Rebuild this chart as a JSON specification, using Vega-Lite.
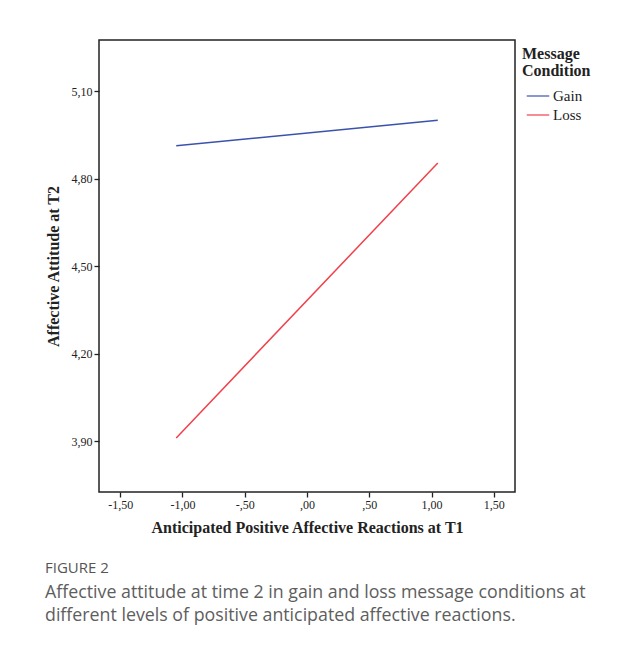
{
  "$schema": "https://vega.github.io/schema/vega-lite/v6.json",
  "width": 416,
  "height": 452,
  "autosize": {"type": "none"},
  "padding": {"left": 99, "top": 40, "right": 108, "bottom": 160},
  "background": "white",
  "data": {
    "values": [
      {"x": -1.05, "y": 4.913, "cond": "Gain"},
      {"x": 1.05, "y": 5.0, "cond": "Gain"},
      {"x": -1.05, "y": 3.912, "cond": "Loss"},
      {"x": 1.05, "y": 4.854, "cond": "Loss"}
    ]
  },
  "title": {
    "text": "FIGURE 2",
    "subtitle": ["Affective attitude at time 2 in gain and loss message conditions at", "different levels of positive anticipated affective reactions."],
    "orient": "bottom",
    "anchor": "start",
    "frame": "bounds",
    "offset": 26,
    "dx": 0,
    "font": "Open Sans",
    "fontSize": 15,
    "fontWeight": 500,
    "color": "#555555",
    "subtitleFont": "Open Sans",
    "subtitleFontSize": 17.8,
    "subtitleColor": "#5e5e5e",
    "subtitlePadding": 8,
    "subtitleLineHeight": 23
  },
  "mark": {"type": "line", "strokeWidth": 1.5},
  "encoding": {
    "x": {
      "field": "x",
      "type": "quantitative",
      "scale": {"domain": [-1.67, 1.67], "nice": false, "zero": false},
      "axis": {
        "title": "Anticipated Positive Affective Reactions at T1",
        "values": [-1.5, -1, -0.5, 0, 0.5, 1, 1.5],
        "labelExpr": "(datum.value < 0 ? '-' : '') + replace(replace(format(abs(datum.value), '.2f'), regexp('^0'), ''), '.', ',')",
        "titlePadding": 9
      }
    },
    "y": {
      "field": "y",
      "type": "quantitative",
      "scale": {"domain": [3.727, 5.275], "nice": false, "zero": false},
      "axis": {
        "title": "Affective Attitude at T2",
        "values": [3.9, 4.2, 4.5, 4.8, 5.1],
        "labelExpr": "replace(format(datum.value, '.2f'), '.', ',')",
        "titlePadding": 10
      }
    },
    "color": {
      "field": "cond",
      "type": "nominal",
      "scale": {"domain": ["Gain", "Loss"], "range": ["#3b52ac", "#f0404a"]},
      "legend": {
        "title": ["Message", "Condition"],
        "symbolType": "M-1.25,0L1.25,0",
        "symbolSize": 324,
        "symbolStrokeWidth": 1.2,
        "symbolFillColor": "transparent",
        "offset": 1,
        "padding": 6,
        "symbolOffset": 6,
        "labelOffset": 5,
        "rowPadding": 1
      }
    }
  },
  "config": {
    "view": {"stroke": "#222222", "strokeWidth": 1.5},
    "axis": {
      "grid": false,
      "domain": false,
      "ticks": true,
      "tickColor": "#222222",
      "tickSize": 5,
      "tickWidth": 1.3,
      "labelFont": "Liberation Serif",
      "labelFontSize": 12,
      "labelColor": "#222222",
      "labelPadding": 2,
      "titleFont": "Liberation Serif",
      "titleFontSize": 16,
      "titleFontWeight": "bold",
      "titleColor": "#222222"
    },
    "legend": {
      "titleFont": "Liberation Serif",
      "titleFontSize": 16,
      "titleFontWeight": "bold",
      "titleColor": "#222222",
      "titleLineHeight": 17,
      "titlePadding": 7,
      "labelFont": "Liberation Serif",
      "labelFontSize": 15,
      "labelColor": "#222222"
    }
  }
}
